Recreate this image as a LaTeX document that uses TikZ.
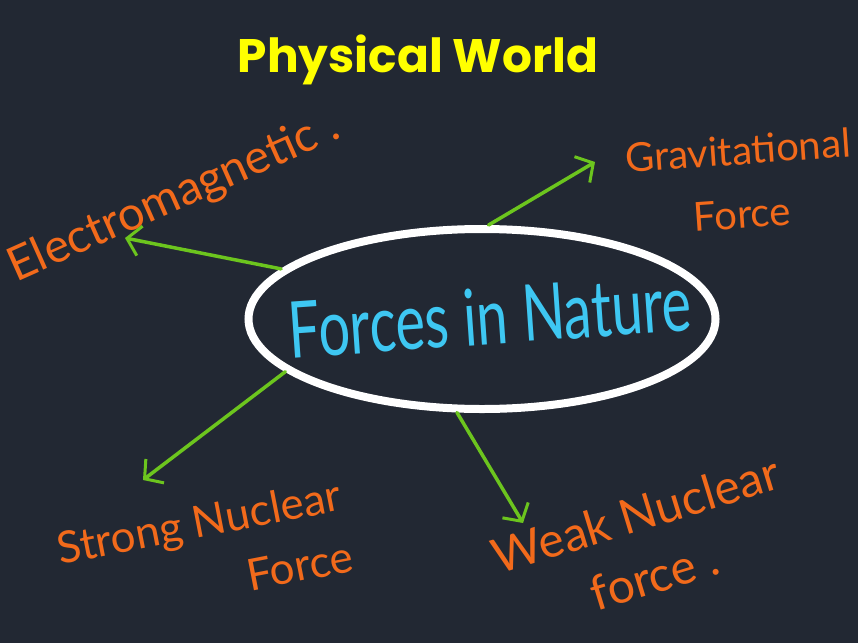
\documentclass[tikz,border=0pt]{standalone}
\usepackage{fontspec}
\setmainfont{Lato}
\newfontfamily\titlefont{Poppins}
\usetikzlibrary{arrows.meta,shapes.geometric}
\definecolor{board}{HTML}{222833}
\definecolor{chalkorange}{HTML}{F26A1B}
\definecolor{chalkgreen}{HTML}{6CC51E}
\definecolor{chalkcyan}{HTML}{3EC7F2}
\definecolor{chalkyellow}{HTML}{FFFF00}
\tikzset{branch/.style={-{Straight Barb[length=13pt,width=30pt,line width=3pt]}, line width=3.5pt, color=chalkgreen, line cap=round}, lab/.style={font=\fontsize{44}{62}\selectfont, text=chalkorange, align=center}, bubble/.style={ellipse, draw=white, line width=8pt, minimum width=467pt, minimum height=180pt, inner sep=0pt}}

\begin{document}
\begin{tikzpicture}[x=1pt,y=-1pt]
\useasboundingbox (0,0) rectangle (858,642);
\fill[board] (-2,-2) rectangle (860,644);
\node[text=chalkyellow, font=\titlefont\bfseries\fontsize{47}{50}\selectfont] (title) at (418,60) {Physical World};
\node[bubble] (forces) at (482,319) {};
\node[text=chalkcyan, font=\fontsize{56}{60}\selectfont, rotate=4] (forcestext) at (490,316) {\scalebox{1}[1.4]{Forces in Nature}};
\node[lab, rotate=24, font=\fontsize{47}{62}\selectfont] (em) at (174,198) {Electromagnetic .};
\node[lab, rotate=4, font=\fontsize{40}{64}\selectfont] (grav) at (740,182) {Gravitational\\Force};
\node[lab, rotate=11, align=right] (strong) at (205,552) {Strong Nuclear\\Force};
\node[lab, rotate=17, font=\fontsize{48}{64}\selectfont] (weak) at (645,545) {Weak Nuclear\\force .};
\coordinate (emtip) at (125,238);
\coordinate (gravtip) at (595,162);
\coordinate (strongtip) at (143,480);
\coordinate (weaktip) at (523,523);
\draw[branch] (forces.166) -- (emtip);
\draw[branch] (forces.86) -- (gravtip);
\draw[branch] (forces.195) -- (strongtip);
\draw[branch] (forces.-105) -- (weaktip);
\end{tikzpicture}
\end{document}
